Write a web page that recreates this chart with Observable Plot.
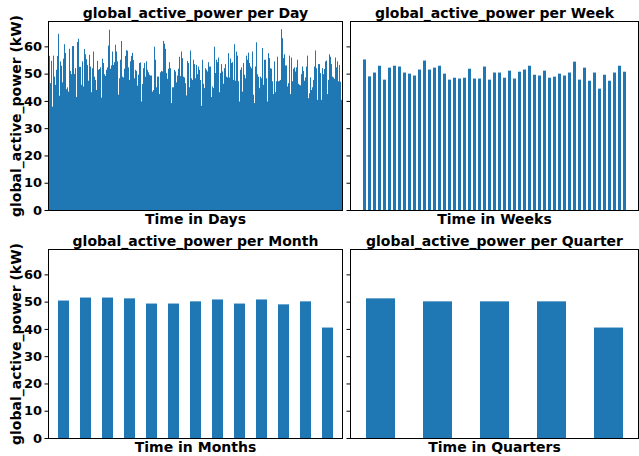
<!DOCTYPE html>
<html><head><meta charset="utf-8">
<script src="https://cdn.jsdelivr.net/npm/d3@7"></script>
<script src="https://cdn.jsdelivr.net/npm/@observablehq/plot@0.6"></script>
<style>
body{margin:0;background:#fff;}
#fig{position:relative;width:639px;height:456px;overflow:hidden;background:#fff;}
#fig svg{position:absolute;}
</style></head><body><div id="fig"></div>
<script>
// Mean global_active_power (kW)
const dailyPower = [
55.1,56.5,46.5,54.7,37.9,56.6,48.9,45.9,51.4,56.5,64.6,41.9,54.5,52.9,46.8,55.5,60.8,57.6,44.3,45.0,43.4,59.1,51.0,49.8,60.1,60.1,49.9,52.0,41.4,61.6,62.8,52.5,52.5,45.9,54.5,45.3,59.0,57.1,55.3,53.2,47.4,56.9,52.6,43.2,52.0,58.1,48.9,47.7,44.0,54.7,51.4,51.7,52.3,41.2,55.5,53.9,49.8,49.2,51.4,52.3,60.3,66.1,51.8,53.0,58.1,53.2,54.2,60.6,58.1,54.5,42.3,48.3,55.1,
62.0,48.9,48.6,51.8,56.5,58.6,58.4,52.3,47.7,54.5,56.5,57.6,55.0,48.3,51.4,51.0,45.6,49.6,53.9,54.1,39.8,46.2,52.0,53.9,48.9,54.5,51.4,50.5,49.6,49.3,49.3,43.4,44.0,59.9,55.1,45.0,48.9,48.9,42.5,50.5,51.0,50.8,62.0,61.0,59.1,50.2,48.1,51.8,54.2,52.0,39.2,45.0,45.0,51.4,50.8,46.8,49.3,51.8,56.2,49.1,58.1,55.7,48.9,48.6,46.5,42.0,54.7,53.9,45.0,58.5,48.3,47.7,55.1,53.5,48.3,
53.2,49.8,52.6,51.4,47.7,38.2,55.1,46.3,44.7,52.0,51.4,50.8,54.2,52.6,52.6,41.4,45.3,44.7,59.9,50.2,55.1,54.2,55.9,43.2,50.2,53.5,50.8,46.3,52.0,53.5,48.9,48.6,57.5,48.6,55.5,53.9,54.2,47.7,60.8,47.4,58.1,56.6,47.2,39.8,51.4,52.3,43.4,53.9,49.6,48.3,56.6,55.1,57.7,53.9,52.6,52.0,58.1,42.3,39.2,52.6,61.5,49.8,48.9,44.7,48.9,48.3,59.4,45.9,55.1,55.1,48.3,39.8,57.5,55.7,
52.0,51.8,47.2,42.5,54.5,43.2,47.2,56.2,47.2,47.4,47.7,66.3,63.0,55.7,57.1,53.0,53.0,45.3,46.5,56.6,42.5,55.9,47.2,51.8,52.3,50.8,52.3,55.1,46.3,45.9,45.7,49.8,52.6,51.0,47.4,48.6,52.6,56.6,41.0,42.8,48.6,44.0,45.0,47.7,52.6,58.5,52.0,40.4,53.5,53.5,50.2,40.4,52.0,49.8,51.7,54.5,54.8,42.5,47.7,57.1,56.2,53.5,48.9,48.6,48.1,55.9,52.3,54.5,47.2,53.2,47.0,40.4
];
const weeklyPower = [55.2,49.0,50.4,52.9,47.8,52.2,52.9,52.6,50.4,50.0,49.3,51.5,54.8,51.5,52.2,52.9,50.0,47.8,48.5,48.2,48.5,51.8,48.2,48.2,52.6,47.8,50.4,50.4,48.5,51.1,48.2,50.7,51.5,52.9,49.6,49.3,51.1,48.5,48.9,50.0,49.3,50.4,54.4,47.8,52.2,47.4,50.4,44.5,49.6,47.4,50.4,52.9,50.7];
const monthlyPower = [50.4,51.5,51.5,51.2,49.3,49.3,50.1,50.8,49.3,50.8,49.0,50.1,40.5];
const quarterlyPower = [51.2,50.1,50.1,50.1,40.5];
const yTicks = [0,10,20,30,40,50,60];
const titles = ["global_active_power per Day","global_active_power per Week","global_active_power per Month","global_active_power per Quarter"];
const xLabels = ["Time in Days","Time in Weeks","Time in Months","Time in Quarters"];
const yLabel = "global_active_power (kW)";

const yMax = 69.3;
const color = "#1f77b4";
const font = "DejaVu Sans";

function panel(values, title, xlabel, cell) {
  const {left, top, width, height, mL, mR, showY, pad} = cell;
  const idx = values.map((v, i) => ({i, v}));
  const marks = [
    Plot.barY(idx, {x: "i", y: "v", fill: color}),
    Plot.axisY(yTicks, {tickSize: 3.5, tickPadding: 3, fontSize: 13, fontWeight: "bold",
      tickFormat: showY ? (d => d) : (() => ""), label: null}),
    Plot.frame({stroke: "#000", strokeWidth: 1}),
    Plot.text([title], {text: d => d, frameAnchor: "top", lineAnchor: "bottom", dy: -4, fontSize: 14, fontWeight: "bold"}),
    Plot.text([xlabel], {text: d => d, frameAnchor: "bottom", lineAnchor: "top", dy: 3.5, fontSize: 14, fontWeight: "bold"})
  ];
  if (showY) marks.push(Plot.text([yLabel], {text: d => d, frameAnchor: "left", rotate: -90, dx: -32, textAnchor: "middle", lineAnchor: "middle", fontSize: 14, fontWeight: "bold"}));
  const svg = Plot.plot({
    width, height,
    marginLeft: mL, marginRight: mR, marginTop: 21, marginBottom: 18,
    style: {fontFamily: font, color: "#000", background: "transparent", overflow: "visible"},
    x: {type: "band", domain: d3.range(values.length), paddingInner: pad, paddingOuter: pad / 2, axis: null},
    y: {domain: [0, yMax], axis: null},
    marks
  });
  svg.style.left = left + "px";
  svg.style.top = top + "px";
  document.getElementById("fig").appendChild(svg);
}

panel(dailyPower, titles[0], xLabels[0], {left: 0, top: 0, width: 345, height: 228, mL: 48, mR: 3, showY: true, pad: 0});
panel(weeklyPower, titles[1], xLabels[1], {left: 345, top: 0, width: 294, height: 228, mL: 5, mR: 1, showY: false, pad: 0.5});
panel(monthlyPower, titles[2], xLabels[2], {left: 0, top: 228, width: 345, height: 228, mL: 48, mR: 3, showY: true, pad: 0.5});
panel(quarterlyPower, titles[3], xLabels[3], {left: 345, top: 228, width: 294, height: 228, mL: 5, mR: 1, showY: false, pad: 0.5});
</script></body></html>
